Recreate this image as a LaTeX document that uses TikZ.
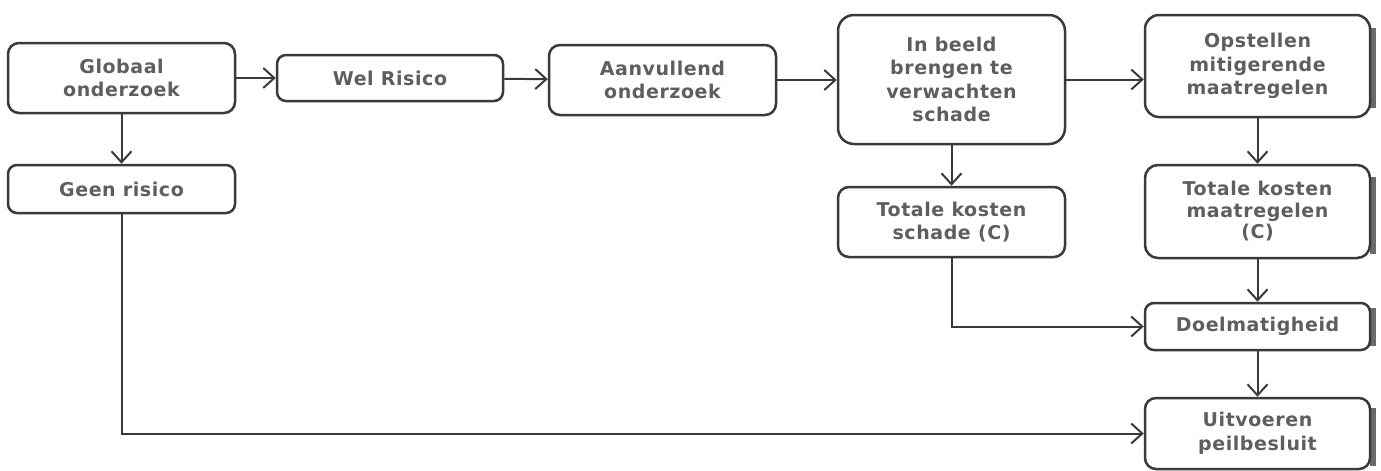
\documentclass[tikz,border=0pt]{standalone}
\usepackage{fontspec}
\newfontfamily\boxfont{DejaVu Sans}[LetterSpace=3]
\usetikzlibrary{arrows.meta}
\definecolor{boxline}{HTML}{3A3A3A}
\definecolor{boxtext}{HTML}{5E5E5E}
\definecolor{edgeshade}{HTML}{6A6A6A}
\tikzset{
  box/.style={draw=boxline, line width=2.5pt, rounded corners=11pt, fill=white,
    align=center, inner sep=0pt, text=boxtext,
    font=\boxfont\bfseries\fontsize{19}{23.5}\selectfont},
  arr/.style={draw=boxline, line width=2pt, -{Straight Barb[length=11pt,width=20pt,line width=2pt]}},
  shade/.style={fill=edgeshade, draw=none}
}
\begin{document}
\begin{tikzpicture}[x=1pt,y=-1pt]
\useasboundingbox (0,0) rectangle (1381,471);
% right-side grey strips of the right column
\fill[shade] (1370,28) rectangle (1376,108);
\fill[shade] (1370,177) rectangle (1376,254);
\fill[shade] (1370,308) rectangle (1376,346);
\fill[shade] (1370,408) rectangle (1376,466);
\node[box, minimum width=227pt, minimum height=70pt] (G) at (121.5,78) {Globaal\\onderzoek};
\node[box, minimum width=226pt, minimum height=46pt, rounded corners=9pt] (W) at (390,78) {Wel Risico};
\node[box, minimum width=227pt, minimum height=70pt] (A) at (662.5,80) {Aanvullend\\onderzoek};
\node[box, minimum width=227pt, minimum height=129pt, rounded corners=16pt] (I) at (951.5,79.5) {In beeld\\brengen te\\verwachten\\schade};
\node[box, minimum width=225pt, minimum height=102pt, rounded corners=14pt] (O) at (1257.5,66) {Opstellen\\mitigerende\\maatregelen};
\node[box, minimum width=227pt, minimum height=48pt, rounded corners=9pt] (N) at (121.5,189) {Geen risico};
\node[box, minimum width=227pt, minimum height=70pt] (S) at (951.5,222) {Totale kosten\\schade (C)};
\node[box, minimum width=225pt, minimum height=93pt, rounded corners=13pt, font=\boxfont\bfseries\fontsize{19}{21.5}\selectfont] (M) at (1257.5,211.5) {Totale kosten\\maatregelen\\(C)};
\node[box, minimum width=225pt, minimum height=47pt, rounded corners=9pt] (D) at (1257.5,326.5) {Doelmatigheid};
\node[box, minimum width=225pt, minimum height=71pt] (U) at (1257.5,433.5) {Uitvoeren\\peilbesluit};
\draw[arr] (G) -- (W);
\draw[arr] (W) -- (A);
\draw[arr] (A.east) -- (A.east -| I.west);
\draw[arr] (I.east) -- (I.east -| O.west);
\draw[arr] (G) -- (N);
\draw[arr] (I) -- (S);
\draw[arr] (O) -- (M);
\draw[arr] (M) -- (D);
\draw[arr] (D) -- (U);
\draw[arr] (S.south) |- (D.west);
\draw[arr] (N.south) |- (U.west);
\end{tikzpicture}
\end{document}
